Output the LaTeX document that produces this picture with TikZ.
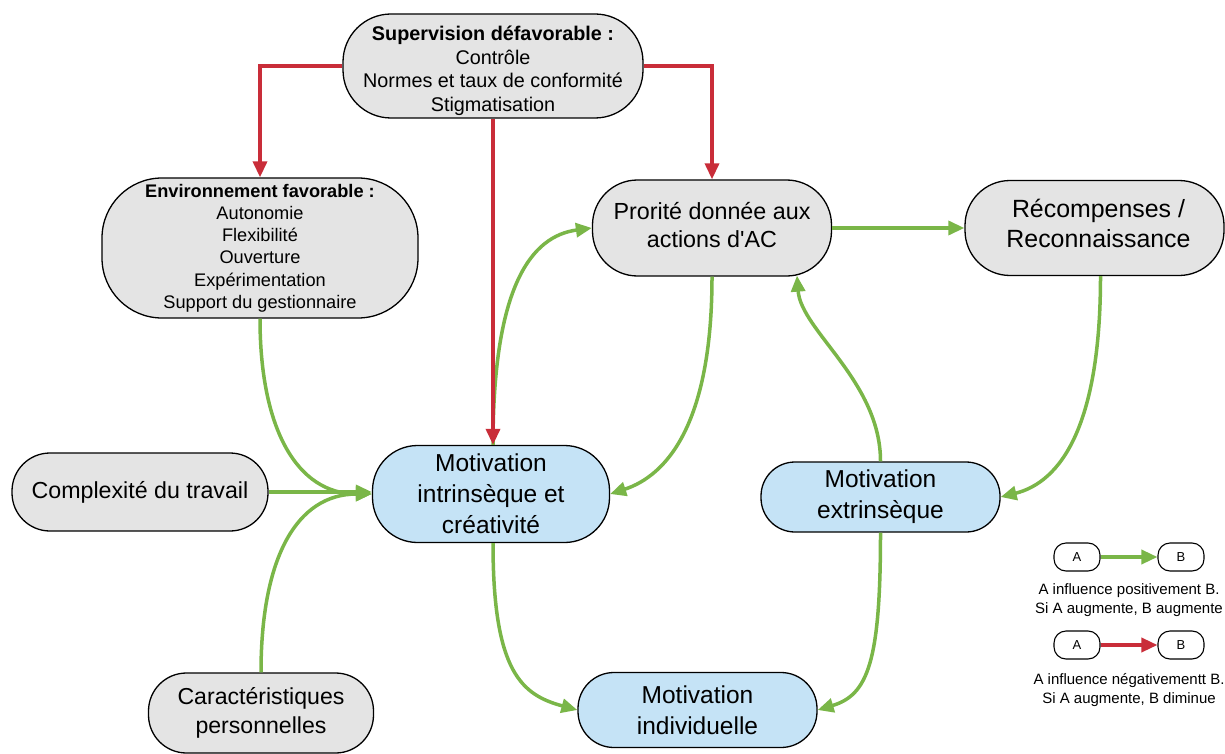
\documentclass[tikz,border=0pt]{standalone}
\usepackage{fontspec}
\setmainfont{Liberation Sans}
\usetikzlibrary{arrows.meta}
\definecolor{gfill}{HTML}{E4E4E4}
\definecolor{bfill}{HTML}{C5E3F6}
\definecolor{pos}{HTML}{7AB648}
\definecolor{neg}{HTML}{C92D39}
\begin{document}
\begin{tikzpicture}[x=1pt,y=-1pt,
  box/.style={draw=black,line width=1.3pt,fill=gfill,align=center,inner sep=0pt,text=black},
  bbox/.style={box,fill=bfill},
  lab/.style={align=center,inner sep=0pt,text=black},
  mot/.style={font=\fontsize{24.5}{31}\selectfont},
  lbox/.style={draw=black,line width=1.1pt,fill=white,rounded corners=12pt,minimum width=46pt,minimum height=28pt,inner sep=0pt,font=\fontsize{13}{15}\selectfont},
  ltext/.style={align=center,inner sep=0pt,font=\fontsize{15}{18.5}\selectfont},
  posarr/.style={draw=pos,line width=3.5pt,-{Triangle[length=16pt,width=14pt]}},
  negarr/.style={draw=neg,line width=3.5pt,-{Triangle[length=16pt,width=14pt]}},
]
\useasboundingbox (0,0) rectangle (1225,754);

% nodes
\node[box,minimum width=300pt,minimum height=104pt,rounded corners=48pt,
  label={[lab,yshift=-5pt,font=\fontsize{19.8}{23.5}\selectfont]center:{\textbf{Supervision défavorable :}\\Contrôle\\Normes et taux de conformité\\Stigmatisation}}] (sup) at (493,66) {};
\node[box,minimum width=316pt,minimum height=140pt,rounded corners=60pt,font=\fontsize{18.2}{22.2}\selectfont] (env) at (260,248)
  {\textbf{Environnement favorable :}\\Autonomie\\Flexibilité\\Ouverture\\Expérimentation\\Support du gestionnaire};
\node[box,minimum width=239pt,minimum height=96pt,rounded corners=45pt,
  label={[lab,yshift=3pt,font=\fontsize{23.3}{28.5}\selectfont]center:{Prorité donnée aux\\actions d\textquotesingle AC}}] (pr) at (712,228) {};
\node[box,minimum width=259pt,minimum height=95pt,rounded corners=45pt,
  label={[lab,yshift=5pt,xshift=4pt,font=\fontsize{24.9}{30}\selectfont]center:{Récompenses /\\Reconnaissance}}] (rc) at (1094.5,228) {};
\node[box,minimum width=256pt,minimum height=78pt,rounded corners=38pt,font=\fontsize{23.2}{28}\selectfont] (cx) at (140,492)
  {Complexité du travail};
\node[bbox,mot,minimum width=237pt,minimum height=97pt,rounded corners=45pt] (mi) at (491,494)
  {Motivation\\intrinsèque et\\créativité};
\node[bbox,mot,minimum width=239pt,minimum height=70pt,rounded corners=34pt] (me) at (880.5,497)
  {Motivation\\extrinsèque};
\node[box,minimum width=225pt,minimum height=80pt,rounded corners=38pt,font=\fontsize{23.1}{29.5}\selectfont] (car) at (261,713)
  {Caractéristiques\\personnelles};
\node[bbox,mot,minimum width=239pt,minimum height=75pt,rounded corners=36pt] (mind) at (697.5,710)
  {Motivation\\individuelle};

% legend
\node[lbox] (la1) at (1077,557) {A};
\node[lbox] (lb1) at (1181,557) {B};
\node[ltext] (lt1) at (1129,600) {A influence positivement B.\\Si A augmente, B augmente};
\node[lbox] (la2) at (1077,645) {A};
\node[lbox] (lb2) at (1181,645) {B};
\node[ltext] (lt2) at (1129,690) {A influence négativementt B.\\Si A augmente, B diminue};
\draw[posarr] (la1.east) -- (lb1.west);
\draw[negarr] (la2.east) -- (lb2.west);

% green connectors
\draw[posarr] (env.south) .. controls +(0,110) and +(-75,0) .. (mi.west);
\draw[posarr] (car.north) .. controls +(0,-115) and +(-75,0) .. (mi.west);
\draw[posarr] (cx.east) -- (cx.east -| mi.west);
\draw[posarr] ([xshift=2pt]mi.north) .. controls +(0,-160) and +(-60,8) .. (pr.west);
\draw[posarr] (pr.south) .. controls +(0,150) and +(55,-18) .. (mi.east);
\draw[posarr] (pr.east) -- (rc.west);
\draw[posarr] ([xshift=6pt]rc.south) .. controls +(0,150) and +(60,-15) .. (me.east);
\draw[posarr] (me.north) .. controls +(0,-80) and +(4,55) .. ([xshift=85pt,yshift=1pt]pr.south);
\draw[posarr] ([xshift=2pt]mi.south) .. controls +(0,130) and +(-55,-15) .. (mind.west);
\draw[posarr] (me.south) .. controls +(0,130) and +(50,-15) .. (mind.east);

% red connectors
\draw[negarr] (sup.west) -| (env.north);
\draw[negarr] (sup.east) -| (pr.north);
\draw[negarr] (sup.south) -- (sup.south |- mi.north);
\end{tikzpicture}
\end{document}
